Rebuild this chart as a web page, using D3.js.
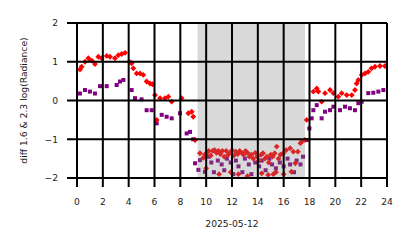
<!DOCTYPE html>
<html>
<head>
<meta charset="utf-8">
<script src="https://cdn.jsdelivr.net/npm/d3@7"></script>
<style>
  body { margin: 0; background: #fff; }
  text { font-family: "DejaVu Sans", sans-serif; fill: #222; }
</style>
</head>
<body>
<div id="chart"></div>
<script>
// hours of day, red series (diamonds)
var redHours = [0.23, 0.36, 0.62, 0.88, 1.14, 1.39, 1.65, 1.91, 2.3, 2.55, 2.94, 3.2, 3.46, 3.72,
  4.05, 4.23, 4.36, 4.62, 4.88, 5.13, 5.39, 5.65, 5.85, 6.04, 6.17, 6.43, 6.81, 7.07, 7.33, 8.1,
  8.62, 8.88, 9.0, 9.14, 9.52, 9.78,
  9.9, 10.05, 10.2, 10.35, 10.5, 10.65, 10.8, 10.95, 11.1, 11.25, 11.4, 11.55, 11.7, 11.85, 12.0,
  12.15, 12.3, 12.45, 12.6, 12.75, 12.9, 13.05, 13.2, 13.35, 13.5, 13.65, 13.8, 13.95, 14.1, 14.25,
  14.4, 14.55, 14.7, 14.85, 15.0, 15.15, 15.3, 15.46, 15.6, 15.75, 15.97, 16.2, 16.5, 16.75, 16.9,
  17.1, 17.3, 17.4, 17.65, 17.78,
  10.0, 11.0, 11.9, 12.5, 13.2, 14.3, 14.8, 15.2, 15.4, 16.0, 16.6,
  18.3, 18.56, 18.68, 18.94, 19.2, 19.59, 19.85, 20.23, 20.49, 20.88, 21.27, 21.52, 21.65, 21.78,
  22.04, 22.3, 22.55, 22.8, 23.07, 23.46, 23.84];
var redValues = [0.8, 0.87, 1.0, 1.09, 1.03, 0.94, 1.13, 1.09, 1.15, 1.13, 1.09, 1.17, 1.2, 1.23,
  1.0, 0.96, 0.83, 0.7, 0.7, 0.66, 0.49, 0.44, 0.42, 0.14, -0.5, 0.06, 0.06, 0.1, -0.03, 0.06,
  -0.33, -0.29, -0.42, -1.02, -1.36, -1.48,
  -1.4, -1.35, -1.3, -1.42, -1.3, -1.28, -1.35, -1.3, -1.38, -1.3, -1.45, -1.3, -1.4, -1.35, -1.28,
  -1.42, -1.32, -1.38, -1.3, -1.35, -1.4, -1.3, -1.35, -1.45, -1.4, -1.5, -1.35, -1.45, -1.55, -1.4,
  -1.36, -1.5, -1.45, -1.6, -1.4, -1.45, -1.36, -1.19, -1.5, -1.4, -1.36, -1.28, -1.23, -1.32, -1.62,
  -1.32, -1.1, -1.06, -1.02, -0.5,
  -1.75, -1.9, -1.85, -1.9, -1.95, -1.88, -1.92, -1.9, -1.85, -1.9, -1.84,
  0.23, 0.31, 0.23, -0.03, 0.19, 0.27, 0.19, 0.1, 0.19, 0.14, 0.14, 0.27, 0.44, 0.53,
  0.66, 0.7, 0.74, 0.83, 0.87, 0.89, 0.89];

// purple series (squares)
var purpleHours = [0.23, 0.62, 1.0, 1.39, 1.78, 2.3, 3.07, 3.33, 3.59, 4.23, 4.49, 5.0, 5.39, 5.78,
  6.17, 6.56, 6.94, 7.33, 7.97, 8.49, 8.75, 9.0, 9.14, 9.4, 9.52, 9.91,
  10.2, 10.4, 10.6, 10.9, 11.2, 11.4, 11.6, 11.9, 12.1, 12.3, 12.5, 12.8, 13.0, 13.3, 13.5, 13.8,
  14.1, 14.3, 14.6, 14.9, 15.1, 15.4, 15.7, 16.0, 16.3, 16.5, 16.8, 17.0, 17.3, 17.5,
  17.78, 17.99, 18.17, 18.3, 18.56, 18.94, 19.2, 19.59, 19.85, 20.36, 20.75, 21.13, 21.52, 21.78,
  22.04, 22.55, 22.94, 23.33, 23.72];
var purpleValues = [0.18, 0.27, 0.23, 0.18, 0.37, 0.37, 0.4, 0.49, 0.53, 0.27, 0.06, 0.03, -0.25, -0.25,
  -0.59, -0.37, -0.42, -0.46, -0.33, -0.85, -0.81, -1.0, -1.62, -1.79, -1.54, -1.84,
  -1.45, -1.6, -1.85, -1.55, -1.65, -1.8, -1.5, -1.6, -1.9, -1.55, -1.7, -1.85, -1.5, -1.65, -1.9, -1.6,
  -1.7, -1.55, -1.8, -1.5, -1.65, -1.75, -1.6, -1.7, -1.5, -1.65, -1.85, -1.55, -1.65, -1.45,
  -1.02, -0.72, -0.46, -0.25, -0.12, -0.46, -0.29, -0.25, -0.16, -0.25, -0.16, -0.2, -0.25, -0.07,
  -0.03, 0.19, 0.2, 0.23, 0.27];

var xTicks = [0, 2, 4, 6, 8, 10, 12, 14, 16, 18, 20, 22, 24];
var yTicks = [-2, -1, 0, 1, 2];
var nightSpan = [9.33, 17.65];
var xLabel = "2025-05-12";
var yLabel = "diff 1.6 & 2.3  log(Radiance)";

var width = 414, height = 248;
var margin = {left: 77, right: 27, top: 23, bottom: 70};
var fontSize = 9.2;

var svg = d3.select('#chart').append('svg')
    .attr('width', width)
    .attr('height', height);

var x = d3.scaleLinear().domain([0, 24]).range([margin.left, width - margin.right]);
var y = d3.scaleLinear().domain([-2, 2]).range([height - margin.bottom, margin.top]);

// points
var redData = redHours.map(function (h, i) { return {h: h, v: redValues[i]}; });
var purpleData = purpleHours.map(function (h, i) { return {h: h, v: purpleValues[i]}; });

svg.selectAll('.purple').data(purpleData).enter().append('rect')
    .attr('class', 'purple')
    .attr('x', function (d) { return x(d.h) - 2; })
    .attr('y', function (d) { return y(d.v) - 2; })
    .attr('width', 4).attr('height', 4)
    .attr('fill', '#800080');

var diamond = d3.symbol().type(d3.symbolDiamond2).size(22);
svg.selectAll('.red').data(redData).enter().append('path')
    .attr('class', 'red')
    .attr('d', diamond)
    .attr('transform', function (d) { return 'translate(' + x(d.h) + ',' + y(d.v) + ')'; })
    .attr('fill', '#ff0000');

// shaded span drawn over the points
svg.append('rect')
    .attr('x', x(nightSpan[0]))
    .attr('y', y(2))
    .attr('width', x(nightSpan[1]) - x(nightSpan[0]))
    .attr('height', y(-2) - y(2))
    .attr('fill', 'rgba(128,128,128,0.3)');

// grid + ticks
var grid = svg.append('g');
xTicks.forEach(function (t) {
    grid.append('line')
        .attr('x1', x(t)).attr('x2', x(t))
        .attr('y1', y(2)).attr('y2', y(-2) + 9)
        .attr('stroke', '#000').attr('stroke-width', 2);
    svg.append('text')
        .attr('x', x(t)).attr('y', y(-2) + 27)
        .attr('text-anchor', 'middle')
        .attr('font-size', fontSize)
        .text(t);
});
yTicks.forEach(function (t) {
    grid.append('line')
        .attr('x1', x(0) - 10).attr('x2', x(24))
        .attr('y1', y(t)).attr('y2', y(t))
        .attr('stroke', '#000').attr('stroke-width', 2);
    svg.append('text')
        .attr('x', x(0) - 19).attr('y', y(t) + 3.3)
        .attr('text-anchor', 'end')
        .attr('font-size', fontSize)
        .text(t < 0 ? '\u2212' + Math.abs(t) : t);
});

svg.append('text')
    .attr('x', (x(0) + x(24)) / 2).attr('y', 227)
    .attr('text-anchor', 'middle')
    .attr('font-size', fontSize)
    .text(xLabel);

svg.append('text')
    .attr('transform', 'translate(27,' + y(0) + ') rotate(-90)')
    .attr('text-anchor', 'middle')
    .attr('font-size', fontSize)
    .text(yLabel);
</script>
</body>
</html>
